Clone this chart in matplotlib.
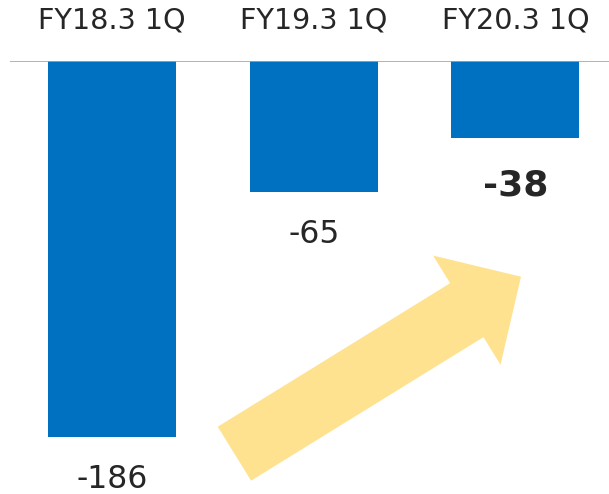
import matplotlib.pyplot as plt
from matplotlib.patches import FancyArrow

plt.rcParams['font.family'] = ['DejaVu Sans']

# データ
categories = ['FY18.3 1Q', 'FY19.3 1Q', 'FY20.3 1Q']
values = [-186, -65, -38]
bold_flags = [False, False, True]

W, H = 609, 494
fig = plt.figure(figsize=(W / 100, H / 100), dpi=100)

# 棒グラフ本体 (上端 = 0 の基準線)
ax = fig.add_axes([10 / W, 0, 1 - 10 / W, 1 - 61 / H])
x = range(len(categories))
ax.bar(x, values, width=0.635, color='#0070C0', zorder=2)
ax.axhline(0, color='#A6A6A6', lw=1.2, zorder=3)
ax.set_xlim(-0.506, 2.464)
ax.set_ylim(-214.1, 0)
ax.axis('off')

for i, (c, v, b) in enumerate(zip(categories, values, bold_flags)):
    ax.text(i, 16.2, c, ha='center', va='baseline', fontsize=20.6, color='#262626')
    off = 28.3 if b else 25.1
    ax.text(i, v - off, str(v), ha='center', va='baseline', color='#262626',
            fontsize=26 if b else 22.7, fontweight='bold' if b else 'normal')

# 改善を示す矢印 (ピクセル座標のオーバーレイ)
ov = fig.add_axes([0, 0, 1, 1], zorder=5)
ov.set_xlim(0, W)
ov.set_ylim(H, 0)
ov.axis('off')
ov.patch.set_alpha(0)
tail = (234.4, 453.7)
tip = (521, 276.7)
ov.add_patch(FancyArrow(tail[0], tail[1], tip[0] - tail[0], tip[1] - tail[1],
                        width=63.4, head_width=128.3, head_length=63.7,
                        length_includes_head=True, color='#FEE28F', lw=0))

fig.savefig('out.png', dpi=100)
